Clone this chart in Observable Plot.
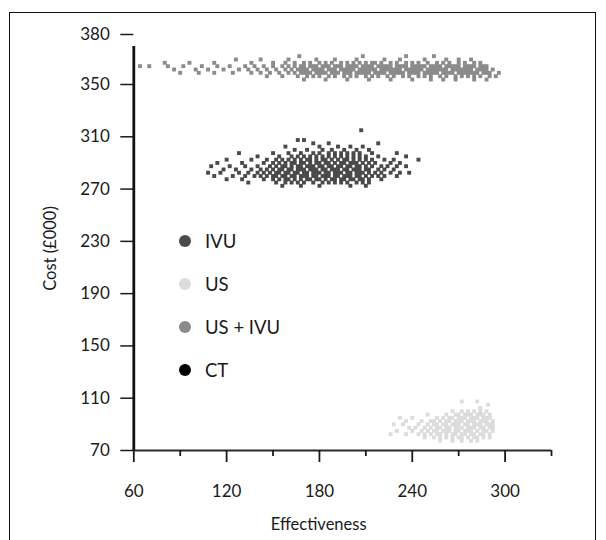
<!DOCTYPE html>
<html>
<head>
<meta charset="utf-8">
<script src="https://cdn.jsdelivr.net/npm/d3@7"></script>
<script src="https://cdn.jsdelivr.net/npm/@observablehq/plot@0.6"></script>
<style>
  html, body { margin: 0; padding: 0; background: #fff; }
  #wrap { position: relative; width: 606px; height: 540px; overflow: hidden; font-family: Lato, "Open Sans", sans-serif; }
  #frame { position: absolute; left: 9px; top: 12px; width: 587px; height: 600px; border: 1px solid #111; box-sizing: border-box; }
  #chart { position: absolute; left: 0; top: 0; }
  .leg { position: absolute; display: flex; align-items: center; font-size: 18.5px; color: #1a1a1a; }
  .leg span.sw { width: 12px; height: 12px; border-radius: 50%; display: inline-block; margin-right: 14px; }
</style>
</head>
<body>
<div id="wrap"><div id="frame"></div><div id="chart"></div></div>
<script>
// ---------- data ----------
const seriesNames = ["IVU", "US", "US + IVU", "CT"];
const seriesColors = ["#4a4a4a", "#dcdcdc", "#8b8b8b", "#000000"];

const xMajorTicks = [60, 120, 180, 240, 300];
const xMinorTicks = [90, 150, 210, 270, 330];
const yTicks = [70, 110, 150, 190, 230, 270, 310, 350, 380];

// US + IVU simulations: cost rows (£000) and effectiveness values in each row
const usIvuCost = [367, 365, 363, 361, 359, 357, 355, 353];
const usIvuEff = [
  [167, 208, 236, 254],
  [126, 142, 160, 178, 190, 204, 222, 232, 248, 262, 270, 278],
  [80, 96, 112, 136, 150, 158, 164, 170, 174, 180, 184, 188, 194, 198, 202, 206, 210, 214, 216, 220, 226, 230, 236, 240, 244, 250, 256, 260, 264, 270, 274, 280, 284],
  [64, 70, 82, 92, 104, 114, 122, 132, 138, 144, 150, 156, 160, 164, 168, 170, 174, 176, 178, 182, 184, 186, 190, 192, 194, 198, 200, 202, 204, 208, 210, 212, 214, 218, 220, 222, 224, 226, 230, 232, 234, 236, 240, 242, 244, 246, 248, 252, 254, 256, 258, 262, 264, 266, 268, 270, 274, 276, 278, 280, 284, 286, 288],
  [86, 100, 108, 118, 128, 134, 140, 146, 152, 158, 162, 166, 168, 170, 172, 176, 178, 180, 182, 186, 188, 190, 194, 196, 198, 200, 202, 206, 208, 210, 212, 214, 216, 220, 222, 224, 226, 228, 230, 232, 236, 238, 240, 242, 244, 246, 250, 252, 254, 256, 258, 260, 262, 266, 268, 270, 272, 274, 276, 278, 282, 284, 286, 288, 292],
  [90, 102, 112, 124, 136, 142, 148, 154, 160, 164, 168, 170, 172, 174, 178, 180, 182, 184, 188, 190, 192, 196, 198, 200, 204, 206, 208, 210, 212, 216, 218, 220, 222, 226, 228, 230, 232, 234, 238, 240, 242, 244, 248, 250, 252, 254, 256, 260, 262, 264, 266, 270, 272, 274, 276, 278, 280, 282, 286, 288, 290, 296],
  [146, 156, 166, 172, 176, 180, 186, 190, 196, 200, 204, 210, 214, 218, 224, 228, 234, 238, 244, 248, 252, 258, 262, 268, 272, 276, 280, 284, 290, 294],
  [170, 184, 198, 212, 226, 240, 252, 260, 268, 280, 288]
];

// IVU simulations
const ivuCost = [315, 307.5, 305, 302.5, 300, 297.5, 295, 292.5, 290, 287.5, 285, 282.5, 280, 277.5, 275, 272.5];
const ivuEff = [
  [207],
  [166, 170],
  [176, 186, 218],
  [158, 180, 192, 200, 208],
  [164, 172, 182, 188, 196, 204, 212],
  [128, 150, 160, 168, 176, 180, 186, 190, 194, 198, 202, 206, 214, 230],
  [140, 154, 162, 166, 170, 174, 178, 182, 186, 190, 194, 198, 202, 206, 210, 218, 236],
  [120, 136, 146, 152, 156, 160, 164, 168, 172, 174, 178, 182, 184, 188, 192, 196, 198, 202, 206, 210, 214, 222, 228, 244],
  [114, 130, 144, 150, 154, 158, 162, 164, 168, 170, 174, 178, 180, 184, 186, 190, 194, 196, 200, 202, 204, 208, 212, 216, 226, 232],
  [110, 122, 132, 140, 148, 152, 156, 158, 162, 166, 168, 172, 174, 176, 180, 182, 186, 188, 192, 194, 198, 200, 204, 206, 210, 214, 220, 224, 230, 236],
  [118, 126, 136, 142, 146, 150, 154, 156, 160, 162, 166, 168, 170, 174, 176, 178, 182, 184, 188, 190, 192, 196, 198, 202, 204, 206, 210, 212, 218, 222, 228],
  [108, 116, 128, 134, 140, 144, 148, 152, 154, 158, 160, 164, 166, 170, 172, 176, 178, 180, 184, 186, 190, 192, 194, 198, 200, 204, 206, 208, 212, 216, 220, 226, 232, 238],
  [112, 124, 132, 138, 142, 146, 150, 152, 156, 158, 162, 164, 168, 170, 172, 176, 178, 182, 184, 186, 190, 192, 196, 198, 200, 204, 206, 210, 214, 218, 222, 230],
  [120, 130, 144, 150, 154, 158, 160, 164, 168, 172, 174, 178, 180, 184, 188, 190, 194, 196, 200, 202, 206, 208, 212, 220],
  [134, 152, 158, 162, 166, 170, 176, 182, 186, 190, 194, 198, 204, 208, 212],
  [156, 168, 180, 200, 210]
];

// US simulations
const usCost = [107.5, 105, 102.5, 100, 97.5, 95, 92.5, 90, 87.5, 85, 82.5, 80, 77.5];
const usEff = [
  [272, 282],
  [289],
  [284],
  [266, 272, 276, 280, 284, 288],
  [250, 262, 268, 270, 274, 276, 278, 282, 284, 286, 290],
  [232, 240, 256, 260, 264, 266, 270, 272, 274, 278, 280, 282, 286, 288, 290],
  [236, 246, 252, 254, 258, 262, 264, 268, 270, 272, 276, 278, 280, 284, 286, 288, 292],
  [228, 234, 244, 250, 254, 256, 260, 262, 266, 268, 270, 274, 276, 280, 282, 284, 288, 290, 292],
  [238, 242, 248, 252, 256, 258, 262, 264, 268, 270, 272, 276, 278, 280, 284, 286, 290, 292],
  [230, 240, 246, 250, 254, 256, 260, 262, 264, 268, 270, 274, 276, 278, 282, 286, 288, 292],
  [226, 236, 244, 248, 252, 256, 258, 262, 266, 268, 272, 274, 278, 280, 284, 286, 290],
  [248, 254, 258, 262, 266, 270, 272, 276, 280, 282, 286, 290],
  [258, 266, 272, 278, 282]
];

// ---------- build tables ----------
function table(costs, effs) {
  return costs.flatMap((c, i) => effs[i].map(e => ({eff: e, cost: c})));
}
const usIvuData = table(usIvuCost, usIvuEff);
const ivuData = table(ivuCost, ivuEff);
const usData = table(usCost, usEff);

const font = "Lato, 'Open Sans', sans-serif";

const chart = Plot.plot({
  width: 606,
  height: 540,
  marginLeft: 133.3,
  marginRight: 55,
  marginTop: 34,
  marginBottom: 90,
  style: {fontFamily: font, fontSize: "17px", color: "#1a1a1a", background: "transparent", overflow: "visible"},
  x: {type: "linear", domain: [60, 330], range: [133.3, 551]},
  y: {type: "linear", domain: [70, 350, 380], range: [450, 84, 34]},
  marks: [
    Plot.dot(usIvuData, {x: "eff", y: "cost", symbol: "square", r: 2.2, fill: seriesColors[2], stroke: null}),
    Plot.dot(ivuData, {x: "eff", y: "cost", symbol: "square", r: 2.2, fill: seriesColors[0], stroke: null}),
    Plot.dot(usData, {x: "eff", y: "cost", symbol: "square", r: 2.2, fill: seriesColors[1], stroke: null}),
    Plot.ruleY([70], {stroke: "#2a2a2a", strokeWidth: 1.8}),
    Plot.axisX(xMajorTicks, {anchor: "bottom", tickSize: 12, tickPadding: 22, strokeWidth: 1.8, stroke: "#1a1a1a", label: null, fontSize: 17}),
    Plot.axisX(xMinorTicks, {anchor: "bottom", tickSize: 6, tickFormat: () => "", strokeWidth: 1.8, stroke: "#1a1a1a", label: null}),
    Plot.axisY(yTicks, {anchor: "left", tickSize: 13, tickPadding: 11, strokeWidth: 1.5, stroke: "#1a1a1a", label: null, fontSize: 17}),
    Plot.ruleX([60], {y1: 70, y2: 380, insetBottom: -12, stroke: "#111", strokeWidth: 2.8}),
    Plot.text(["Effectiveness"], {frameAnchor: "bottom", lineAnchor: "middle", textAnchor: "middle", dx: -24, dy: 74, fontSize: 16.5, fill: "#1a1a1a"}),
    Plot.text(["Cost (£000)"], {frameAnchor: "left", textAnchor: "middle", lineAnchor: "middle", rotate: -90, dx: -83, dy: 6, fontSize: 16.5, fill: "#1a1a1a"})
  ]
});
document.getElementById("chart").appendChild(chart);

// legend inside the plot area
const wrap = document.getElementById("wrap");
seriesNames.forEach((name, i) => {
  const d = document.createElement("div");
  d.className = "leg";
  d.style.left = "179px";
  d.style.top = (231 + i * 43) + "px";
  d.style.height = "20px";
  const sw = document.createElement("span");
  sw.className = "sw";
  sw.style.background = seriesColors[i];
  d.appendChild(sw);
  d.appendChild(document.createTextNode(name));
  wrap.appendChild(d);
});
</script>
</body>
</html>
